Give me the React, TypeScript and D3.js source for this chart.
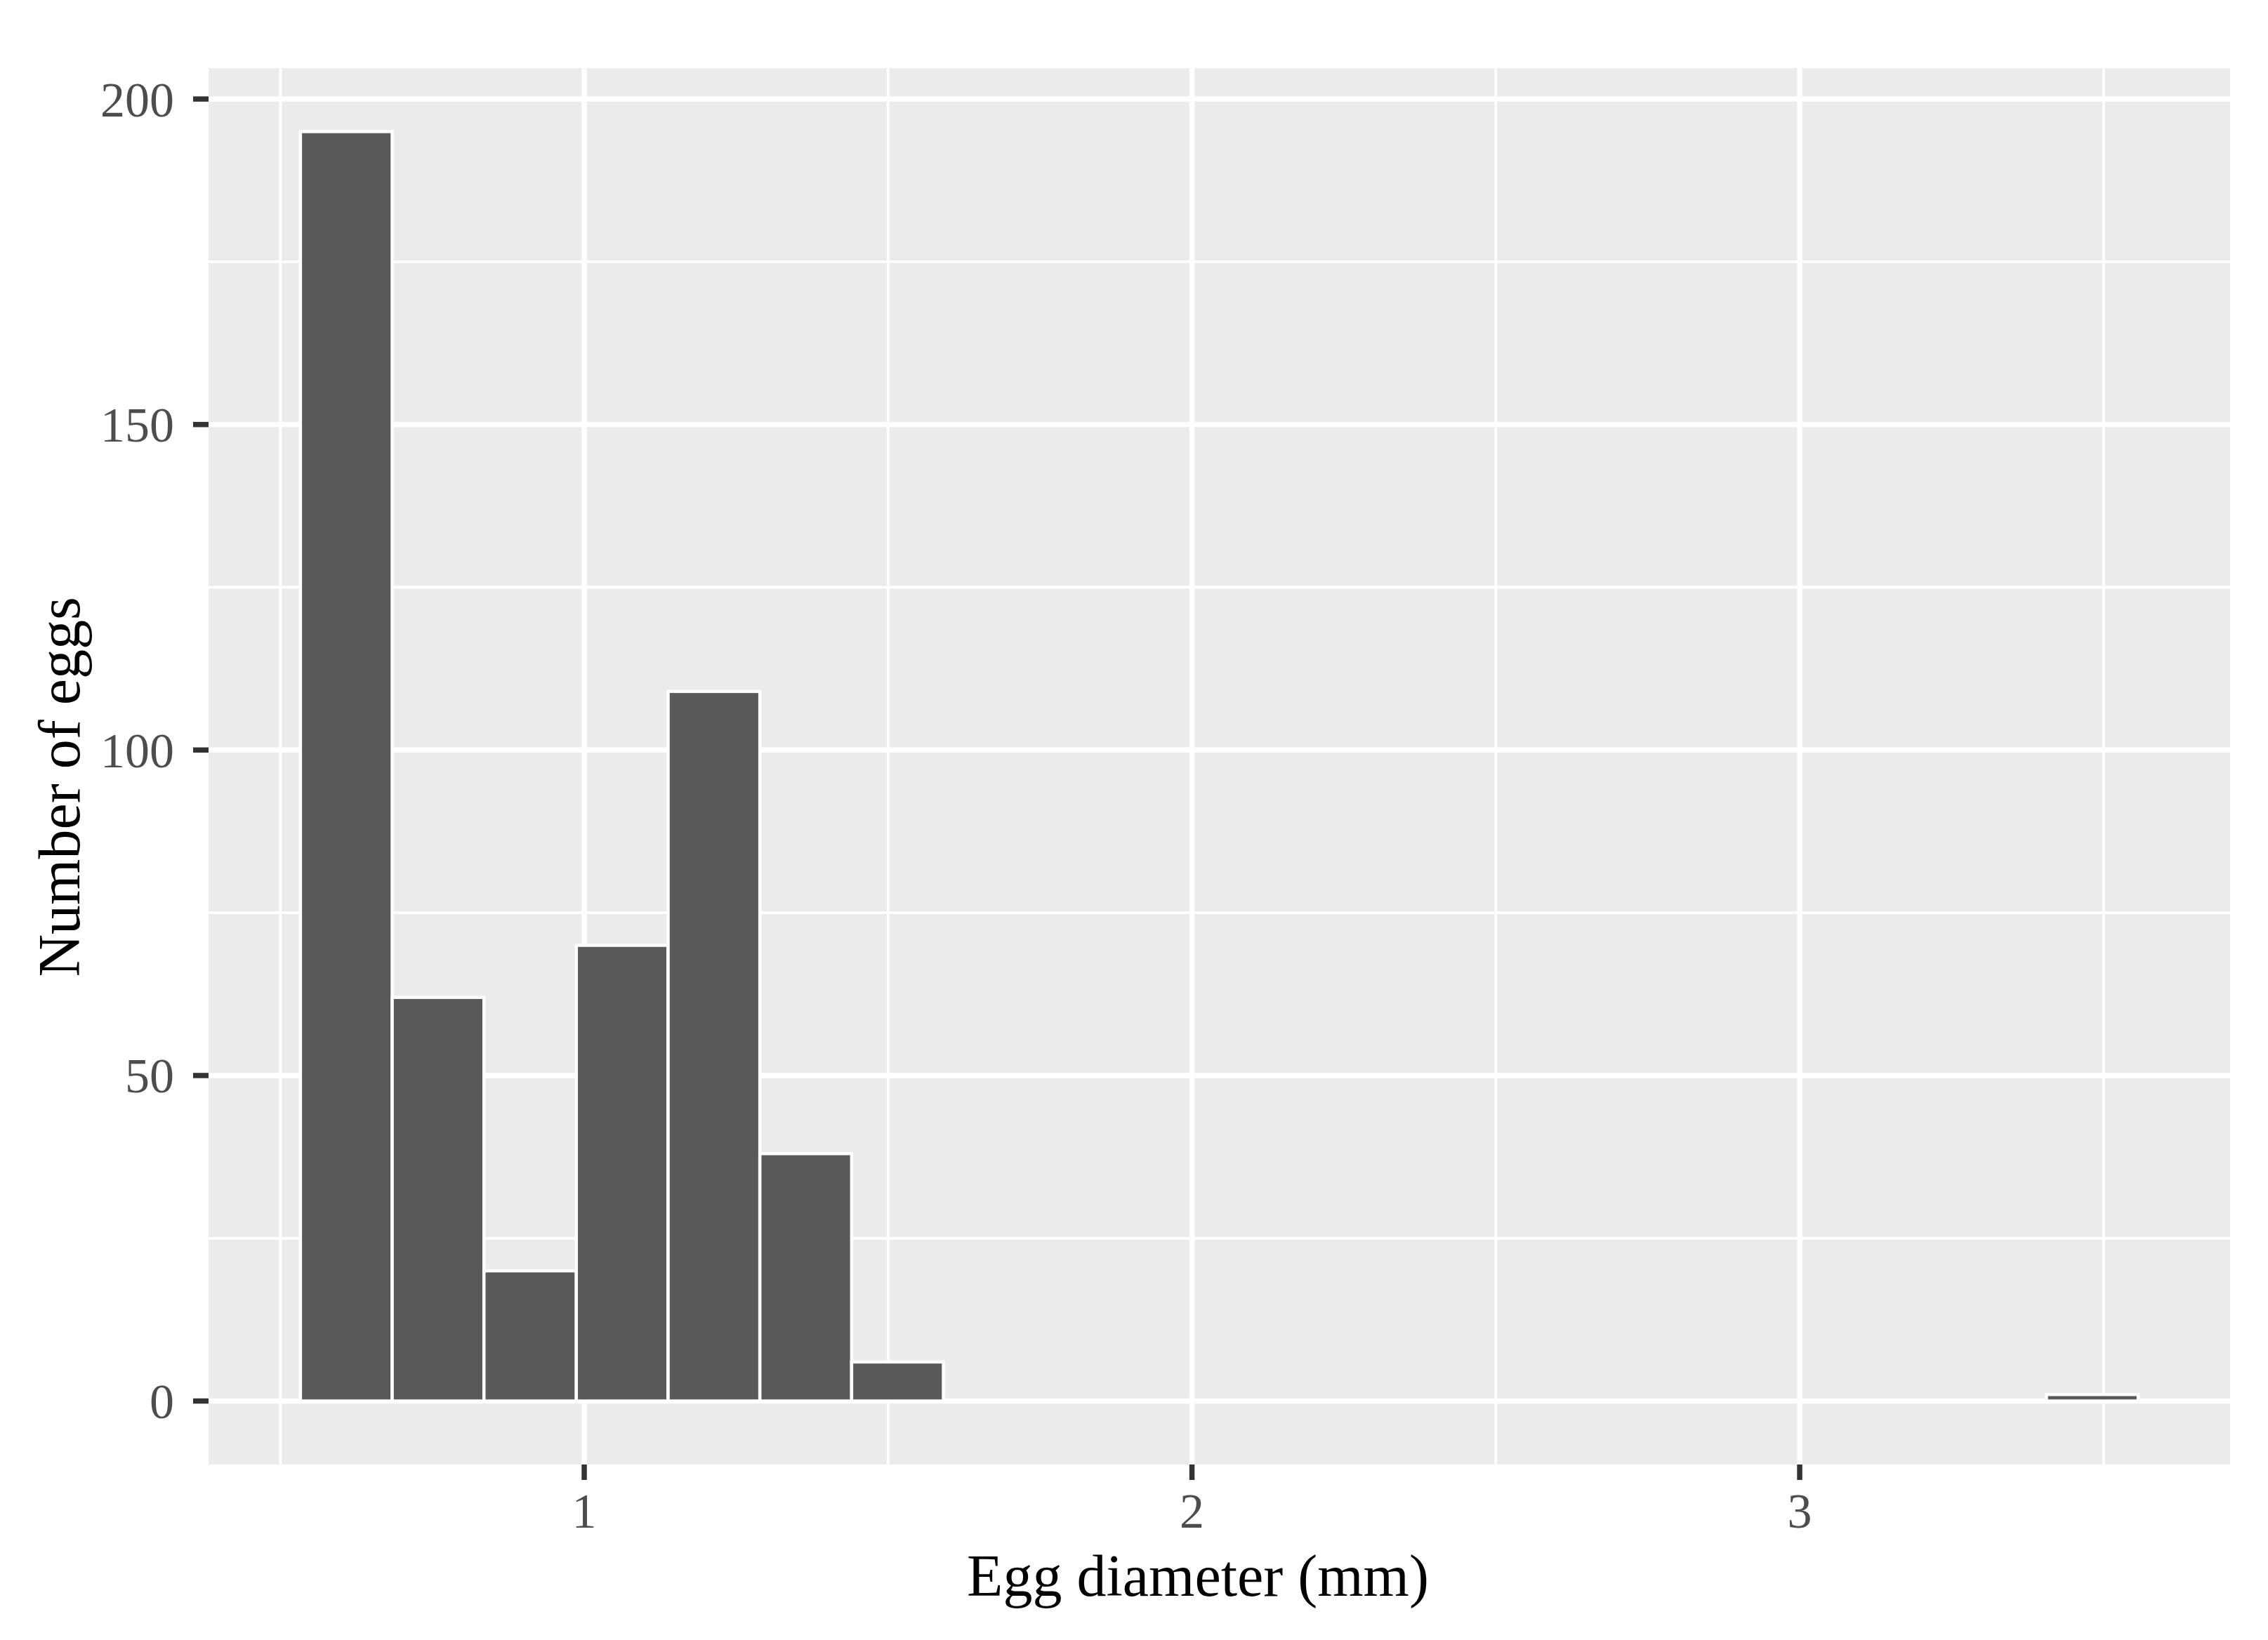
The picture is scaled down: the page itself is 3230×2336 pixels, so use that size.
import React from "react";
import * as d3 from "d3";

// histogram bins (mm) and counts
const binEdges = [
  0.533, 0.684, 0.835, 0.987, 1.138, 1.289, 1.44, 1.591, 1.743, 1.894, 2.045,
  2.196, 2.347, 2.499, 2.65, 2.801, 2.952, 3.103, 3.255, 3.406, 3.557,
];
const counts = [195, 62, 20, 70, 109, 38, 6, 0, 0, 0, 0, 0, 0, 0, 0, 0, 0, 0, 0, 1];

const xTicks = [1, 2, 3];
const xMinor = [0.5, 1.5, 2.5, 3.5];
const yTicks = [0, 50, 100, 150, 200];
const yMinor = [25, 75, 125, 175];

const xLabel = "Egg diameter (mm)";
const yLabel = "Number of eggs";

const W = 3230;
const H = 2336;
const panel = { left: 297, right: 3176, top: 97, bottom: 2086 };
const font = "'Liberation Serif', 'Times New Roman', serif";

const App = () => {
  const bins = counts.map((c, i) => ({ x0: binEdges[i], x1: binEdges[i + 1], count: c }));

  const xMin = binEdges[0];
  const xMax = binEdges[binEdges.length - 1];
  const xPad = (xMax - xMin) * 0.05;
  const x = d3
    .scaleLinear()
    .domain([xMin - xPad, xMax + xPad])
    .range([panel.left, panel.right]);

  const yMaxVal = d3.max(counts) as number;
  const yPad = yMaxVal * 0.05;
  const y = d3
    .scaleLinear()
    .domain([-yPad, yMaxVal + yPad])
    .range([panel.bottom, panel.top]);

  const major = 7.5;
  const minor = 3.8;

  return (
    <svg
      width={W}
      height={H}
      style={{ position: "absolute", left: 0, top: 0, display: "block", background: "#fff" }}
    >
      <rect
        x={panel.left}
        y={panel.top}
        width={panel.right - panel.left}
        height={panel.bottom - panel.top}
        fill="#EBEBEB"
      />
      {/* minor grid */}
      {yMinor.map((v) => (
        <line key={"ym" + v} x1={panel.left} x2={panel.right} y1={y(v)} y2={y(v)} stroke="#fff" strokeWidth={minor} />
      ))}
      {xMinor.map((v) => (
        <line key={"xm" + v} x1={x(v)} x2={x(v)} y1={panel.top} y2={panel.bottom} stroke="#fff" strokeWidth={minor} />
      ))}
      {/* major grid */}
      {yTicks.map((v) => (
        <line key={"yg" + v} x1={panel.left} x2={panel.right} y1={y(v)} y2={y(v)} stroke="#fff" strokeWidth={major} />
      ))}
      {xTicks.map((v) => (
        <line key={"xg" + v} x1={x(v)} x2={x(v)} y1={panel.top} y2={panel.bottom} stroke="#fff" strokeWidth={major} />
      ))}
      {/* bars */}
      {bins.map((b, i) => (
        <rect
          key={"b" + i}
          x={x(b.x0)}
          width={x(b.x1) - x(b.x0)}
          y={y(b.count)}
          height={y(0) - y(b.count)}
          fill="#595959"
          stroke="#fff"
          strokeWidth={4.5}
        />
      ))}
      {/* y axis ticks + labels */}
      {yTicks.map((v) => (
        <g key={"yt" + v}>
          <line x1={panel.left - 22} x2={panel.left} y1={y(v)} y2={y(v)} stroke="#333333" strokeWidth={major} />
          <text
            x={panel.left - 49}
            y={y(v)}
            dy="0.35em"
            textAnchor="end"
            fontFamily={font}
            fontSize={70}
            fill="#4D4D4D"
          >
            {v}
          </text>
        </g>
      ))}
      {/* x axis ticks + labels */}
      {xTicks.map((v) => (
        <g key={"xt" + v}>
          <line x1={x(v)} x2={x(v)} y1={panel.bottom} y2={panel.bottom + 22} stroke="#333333" strokeWidth={major} />
          <text x={x(v)} y={2176} textAnchor="middle" fontFamily={font} fontSize={70} fill="#4D4D4D">
            {v}
          </text>
        </g>
      ))}
      {/* axis titles */}
      <text x={1706} y={2273} textAnchor="middle" fontFamily={font} fontSize={84} fill="#000">
        {xLabel}
      </text>
      <text
        transform={`translate(113, 1121) rotate(-90)`}
        textAnchor="middle"
        fontFamily={font}
        fontSize={84}
        fill="#000"
      >
        {yLabel}
      </text>
    </svg>
  );
};

export default App;
